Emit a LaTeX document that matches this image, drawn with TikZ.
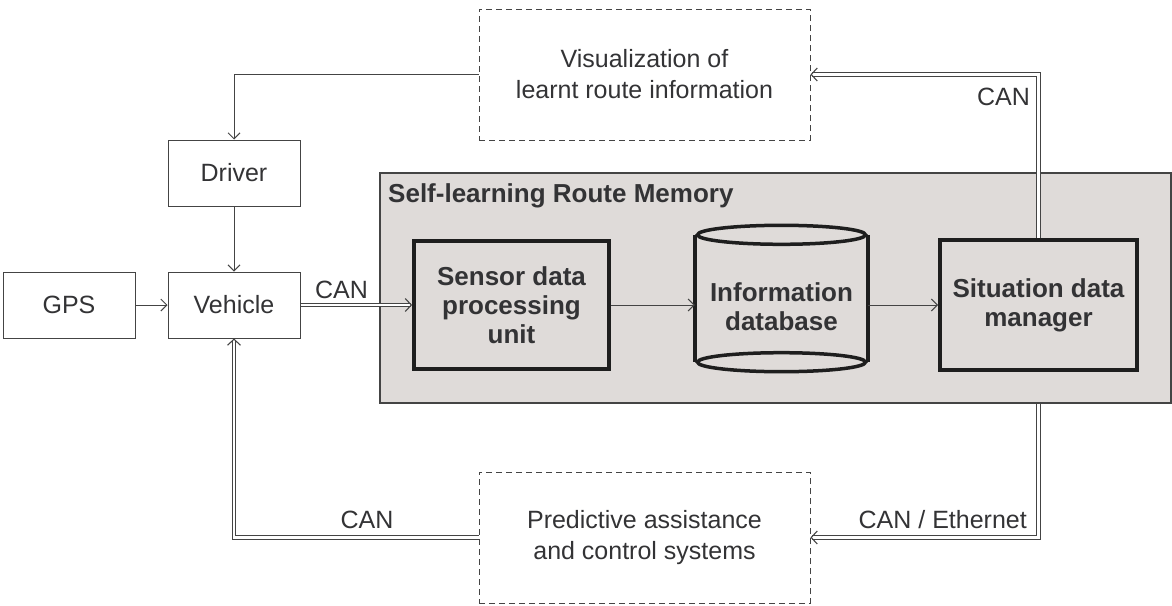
\documentclass[tikz,border=0pt]{standalone}
\usepackage{fontspec}
\setmainfont{Liberation Sans}
\usetikzlibrary{arrows.meta,calc}
\definecolor{txt}{HTML}{333335}
\definecolor{ln}{HTML}{444444}
\definecolor{memfill}{HTML}{DFDBD9}
\definecolor{thickc}{HTML}{1E1E1E}
\begin{document}
\begin{tikzpicture}[x=1pt,y=-1pt,
  every node/.style={text=txt},
  plainbox/.style={draw=ln, line width=1pt, minimum width=132pt, minimum height=66pt,
    inner sep=0pt, font=\fontsize{25}{30}\selectfont},
  dashbox/.style={draw=ln, line width=1pt, dash pattern=on 6pt off 4pt,
    minimum width=331pt, minimum height=131pt, inner sep=0pt, align=center,
    font=\fontsize{25}{31}\selectfont},
  boldbox/.style={draw=thickc, line width=4pt, inner sep=0pt, align=center,
    font=\bfseries\fontsize{26}{29}\selectfont},
  membox/.style={draw=ln, line width=1.2pt, fill=memfill, inner sep=0pt},
  arr/.style={draw=ln, line width=1pt, -{Straight Barb[length=6pt,width=12pt]}},
  dbl/.style={draw=ln, line width=1.1pt, double=white, double distance=2.2pt,
    -{Straight Barb[length=6pt,width=13pt]}},
  lbl/.style={inner sep=0pt, font=\fontsize{25}{30}\selectfont}
]
\useasboundingbox (0,0) rectangle (1172,605);

% memory block
\node[membox, minimum width=791pt, minimum height=230pt] (mem) at (775.5,288) {};
\node[inner sep=0pt, anchor=base west, font=\bfseries\fontsize{26}{30}\selectfont] (title) at (388,202) {Self-learning Route Memory};

% plain boxes
\node[plainbox] (gps) at (69,305) {GPS};
\node[plainbox] (vehicle) at (234,305) {Vehicle};
\node[plainbox] (driver) at (234,173) {Driver};

% dashed boxes
\node[dashbox] (vis) at (644.5,74.5) {Visualization of\\learnt route information};
\node[dashbox] (pred) at (644.5,537.5) {Predictive assistance\\and control systems};

% bold boxes
\node[boldbox, minimum width=195pt, minimum height=128pt] (sensor) at (511.5,305) {Sensor data\\processing\\unit};
\node[boldbox, minimum width=197pt, minimum height=130pt] (sit) at (1038.5,305) {Situation data\\manager};

% database cylinder
\node[inner sep=0pt, minimum width=173pt, minimum height=147pt] (db) at (781.5,298.5) {};
\draw[draw=thickc, line width=3.5pt]
  ($(db.north west)+(0,10)$) -- ($(db.south west)+(0,-10)$)
  ($(db.north east)+(0,10)$) -- ($(db.south east)+(0,-10)$);
\draw[draw=thickc, line width=3.5pt] ($(db.north)+(0,10)$) ellipse [x radius=84pt, y radius=9.5pt];
\draw[draw=thickc, line width=3.5pt] ($(db.south)+(0,-10)$) ellipse [x radius=84pt, y radius=9.5pt];
\node[inner sep=0pt, align=center, font=\bfseries\fontsize{26}{29}\selectfont] (dbtext) at (781.5,307) {Information\\database};

% connectors
\draw[arr] (vis.west) -| (driver.north);
\draw[arr] (driver.south) -- (vehicle.north);
\draw[arr] (gps.east) -- (vehicle.west);
\draw[dbl] (vehicle.east) -- (sensor.west);
\draw[arr] (sensor.east) -- (db.west |- sensor.east);
\draw[arr] (db.east |- sit.west) -- (sit.west);
\draw[dbl] (sit.north) |- (vis.east);
\coordinate (memout) at (sit.south |- mem.south);
\draw[dbl] (memout) |- (pred.east);
\draw[dbl] (pred.west) -| (vehicle.south);

% labels
\node[lbl] (can1) at (341.5,290) {CAN};
\node[lbl] (can2) at (1003.5,97) {CAN};
\node[lbl, anchor=east] (can3) at (1027,520) {CAN / Ethernet};
\node[lbl] (can4) at (367,520) {CAN};
\end{tikzpicture}
\end{document}
